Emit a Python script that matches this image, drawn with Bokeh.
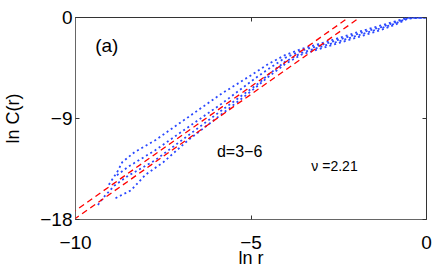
from bokeh.plotting import figure
from bokeh.models import Range1d, FixedTicker, Slope, Label, LinearAxis
from bokeh.embed import file_html
from bokeh.resources import INLINE

# ---- data ----
c1_x = [-9.05, -8.8, -8.67, -8.32, -7.73, -6.78, -5.83, -5.07, -4.51, -4.03, -3.56, -3.0, -2.42, -1.85, -1.29, -0.9, -0.53, 0.0]
c1_y = [-14.9, -13.7, -12.9, -12.0, -10.94, -8.86, -6.77, -5.29, -4.15, -3.35, -2.8, -2.3, -1.75, -1.2, -0.7, -0.35, 0.0, 0.0]

c2_x = [-8.82, -8.5, -7.73, -6.78, -5.83, -4.89, -4.51, -4.03, -3.56, -3.0, -2.42, -1.85, -1.29, -0.9, -0.53, 0.0]
c2_y = [-14.05, -13.3, -11.83, -9.75, -7.67, -5.44, -4.6, -3.6, -2.95, -2.45, -1.9, -1.35, -0.85, -0.45, 0.0, 0.0]

c3_x = [-9.36, -9.22, -8.9, -8.5, -7.73, -6.78, -5.83, -4.79, -4.51, -4.03, -3.56, -3.0, -2.42, -1.85, -1.29, -0.9, -0.53, 0.0]
c3_y = [-16.7, -16.1, -15.0, -14.1, -12.72, -10.49, -8.26, -5.88, -5.1, -3.95, -3.15, -2.6, -2.05, -1.5, -0.95, -0.55, -0.05, 0.0]

c4_x = [-8.86, -8.42, -8.0, -7.5, -6.78, -5.83, -4.97, -4.51, -4.03, -3.56, -3.0, -2.42, -1.85, -1.29, -0.9, -0.53, 0.0]
c4_y = [-16.1, -15.4, -14.0, -12.9, -10.9, -8.6, -6.5, -5.3, -4.15, -3.3, -2.75, -2.2, -1.65, -1.1, -0.65, -0.1, 0.0]

fit_slope = 2.21
fit_intercepts = [4.9, 4.2]

x_ticks = [-10, -5, 0]
x_tick_labels = ["\u221210", "\u22125", "0"]
y_ticks = [-18, -9, 0]
y_tick_labels = ["\u221218", "\u22129", "0"]

panel_label = "(a)"
dim_label = "d=3\u22126"
nu_label = "\u03bd =2.21"

FONT = "Liberation Sans"

p = figure(width=436, height=273, output_backend="svg", toolbar_location=None,
           x_range=Range1d(-10, 0), y_range=Range1d(-18, 0),
           min_border_left=73, min_border_right=10, min_border_top=17, min_border_bottom=54)
p.grid.visible = False
p.outline_line_color = "#333333"
p.background_fill_color = "white"
p.border_fill_color = "white"

for ax, ticks, labels in ((p.xaxis[0], x_ticks, x_tick_labels), (p.yaxis[0], y_ticks, y_tick_labels)):
    ax.ticker = FixedTicker(ticks=ticks)
    ax.major_label_overrides = {t: l for t, l in zip(ticks, labels)}
    ax.major_tick_in = 4
    ax.major_tick_out = 0
    ax.minor_tick_line_color = None
    ax.axis_line_color = "#666666"
    ax.major_tick_line_color = "#333333"
    ax.major_label_text_font = FONT
    ax.major_label_text_font_size = "19px"
    ax.major_label_text_color = "black"
    ax.axis_label_text_font = FONT
    ax.axis_label_text_font_size = "18px"
    ax.axis_label_text_font_style = "normal"
    ax.axis_label_text_color = "black"

p.xaxis.axis_label = "ln r"
p.yaxis.axis_label = "ln C(r)"
p.xaxis.major_label_standoff = 16
p.xaxis.axis_label_standoff = -4
p.yaxis.major_label_standoff = 3
p.yaxis.axis_label_standoff = 14

# mirrored inward ticks on top and right
top_ax = LinearAxis(ticker=FixedTicker(ticks=x_ticks), major_label_overrides={t: " " for t in x_ticks},
                    major_tick_in=4, major_tick_out=0, minor_tick_line_color=None,
                    axis_line_color=None, major_tick_line_color="#333333", major_label_text_font_size="1px")
right_ax = LinearAxis(ticker=FixedTicker(ticks=y_ticks), major_label_overrides={t: " " for t in y_ticks},
                      major_tick_in=4, major_tick_out=0, minor_tick_line_color=None,
                      axis_line_color=None, major_tick_line_color="#333333", major_label_text_font_size="1px")
p.add_layout(top_ax, "above")
p.add_layout(right_ax, "right")

# red dashed fit lines
for b in fit_intercepts:
    p.add_layout(Slope(gradient=fit_slope, y_intercept=b, line_color="#ff0000",
                       line_dash="6 4", line_width=1.3))

# blue dotted data curves
for xs, ys in ((c1_x, c1_y), (c2_x, c2_y), (c3_x, c3_y), (c4_x, c4_y)):
    p.line(xs, ys, line_color="#2a48ff", line_width=1.8, line_dash="2 3")

p.add_layout(Label(x=-9.44, y=-2.47, text=panel_label, text_font=FONT, text_font_size="19px",
                   text_baseline="middle", text_align="left", text_color="black"))
p.add_layout(Label(x=-5.97, y=-11.98, text=dim_label, text_font=FONT, text_font_size="16px",
                   text_baseline="alphabetic", text_align="left", text_color="black"))
p.add_layout(Label(x=-3.28, y=-13.25, text=nu_label, text_font=FONT, text_font_size="14px",
                   text_baseline="alphabetic", text_align="left", text_color="black"))

open("out.html", "w").write(file_html(p, INLINE))
